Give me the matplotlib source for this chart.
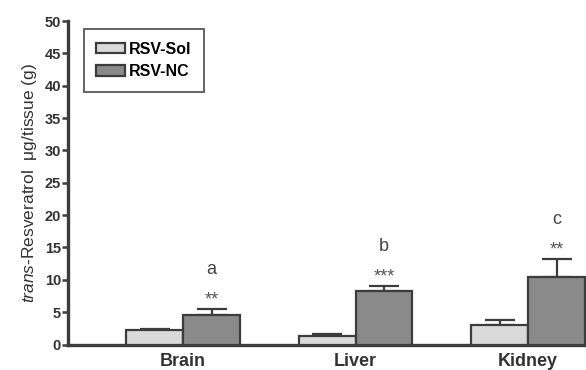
import matplotlib

matplotlib.use("Agg")
import matplotlib.pyplot as plt
import numpy as np

organs = ["Brain", "Liver", "Kidney"]
sol_mean = [2.2, 1.35, 3.0]
sol_err = [0.15, 0.3, 0.75]
nc_mean = [4.5, 8.25, 10.45]
nc_err = [1.05, 0.85, 2.75]
stars = ["**", "***", "**"]
letters = ["a", "b", "c"]

plt.rcParams["font.family"] = ["Liberation Sans", "DejaVu Sans"]
plt.rcParams["mathtext.fontset"] = "custom"
plt.rcParams["mathtext.it"] = "Liberation Sans:italic"
plt.rcParams["mathtext.rm"] = "Liberation Sans"

EDGE = "#3c3c3c"
fig = plt.figure(figsize=(5.86, 3.70), dpi=100)
ax = fig.add_axes([68 / 586, 1 - 344.5 / 370, 1 - 68 / 586, (344.5 - 21) / 370])

x = np.arange(len(organs))
w = 0.33
ax.bar(x - w / 2, sol_mean, w, color="#dadada", edgecolor=EDGE, lw=1.6,
       label="RSV-Sol", zorder=3)
ax.bar(x + w / 2, nc_mean, w, color="#8a8a8a", edgecolor=EDGE, lw=1.6,
       label="RSV-NC", zorder=3)
ax.errorbar(x - w / 2, sol_mean, yerr=[np.zeros(3), sol_err], fmt="none",
            ecolor=EDGE, elinewidth=1.6, capsize=10.5, capthick=1.6, zorder=2)
ax.errorbar(x + w / 2, nc_mean, yerr=[np.zeros(3), nc_err], fmt="none",
            ecolor=EDGE, elinewidth=1.6, capsize=10.5, capthick=1.6, zorder=2)

for i in range(len(organs)):
    top = nc_mean[i] + nc_err[i]
    ax.text(x[i] + w / 2, top + 0.7, stars[i], ha="center", va="baseline",
            fontsize=13, color="#555555")
    ax.text(x[i] + w / 2, top + 5.4, letters[i], ha="center", va="baseline",
            fontsize=13, color="#444444")

ax.set_xlim(-0.667, 2.336)
ax.set_ylim(0, 50)
ax.set_yticks(range(0, 51, 5))
ax.set_xticks(x)
ax.set_xticklabels(organs, fontsize=13, fontweight="bold", color="#333333")
for lab in ax.get_yticklabels():
    lab.set_fontweight("bold")
    lab.set_fontsize(10.5)
    lab.set_color("#333333")
ax.tick_params(axis="x", length=0, pad=6)
ax.tick_params(axis="y", length=4, width=1.8, color=EDGE, pad=1)
for s in ["top", "right"]:
    ax.spines[s].set_visible(False)
for s in ["left", "bottom"]:
    ax.spines[s].set_linewidth(2.4)
    ax.spines[s].set_color(EDGE)
ax.set_ylabel(r"$\it{trans}$-Resveratrol  μg/tissue (g)", fontsize=12.5,
              color="#333333", labelpad=4)

leg = ax.legend(loc="upper left", bbox_to_anchor=(0.03, 0.975), frameon=True,
                fancybox=False, edgecolor=EDGE,
                prop={"weight": "bold", "size": 11.5}, handlelength=1.8,
                handleheight=0.62, borderpad=0.8, labelspacing=0.45,
                handletextpad=0.25, borderaxespad=0)
leg.get_frame().set_linewidth(1.4)

fig.savefig("out.png", dpi=100)
